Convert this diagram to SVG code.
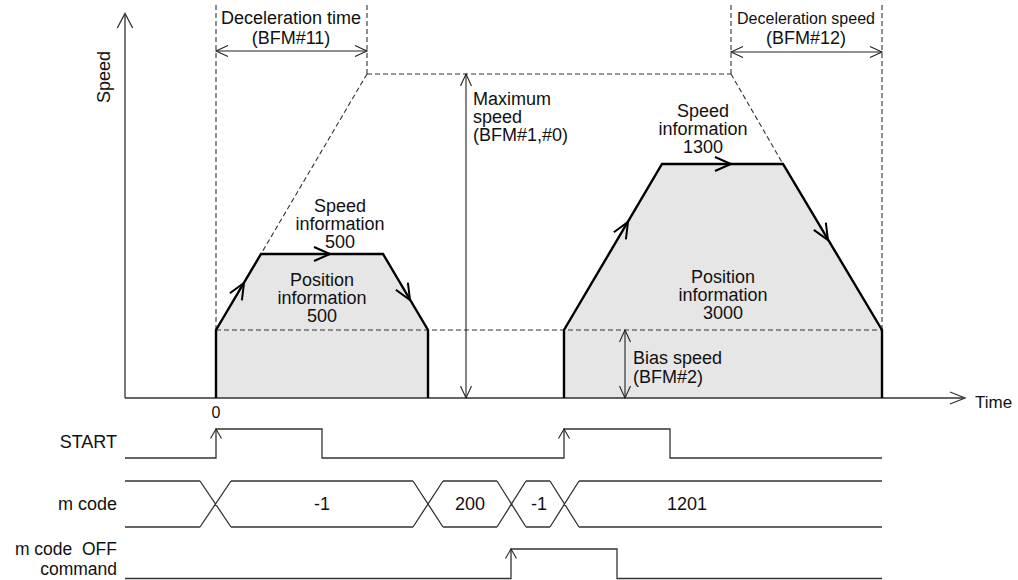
<svg xmlns="http://www.w3.org/2000/svg" width="1018" height="580" viewBox="0 0 1018 580">
<style>
text{font-family:"Liberation Sans",Arial,sans-serif;font-size:18px;fill:#111}
.mid{text-anchor:middle}
.end{text-anchor:end}
.small{font-size:16px}
.lbl2{font-size:17.5px}
.axis{stroke:#333;stroke-width:1.3;fill:none}
.dash{stroke:#333;stroke-width:1.1;stroke-dasharray:5 3;fill:none}
.prof{fill:#e6e6e6;stroke:none}
.outline{stroke:#000;stroke-width:2.4;fill:none;stroke-linejoin:miter}
.sig{stroke:#333;stroke-width:1.3;fill:none}
.chev{stroke:#000;stroke-width:2;fill:none}
.dim{stroke:#222;stroke-width:1.1;fill:none;marker-start:url(#ah);marker-end:url(#ah)}
.tick{stroke:#222;stroke-width:1.1;fill:none}
</style>
<defs>
<marker id="ah" markerUnits="userSpaceOnUse" viewBox="-14 -7 16 14" markerWidth="16" markerHeight="14" refX="0" refY="0" orient="auto-start-reverse" overflow="visible">
<path d="M-12,-5.5 L0,0 L-12,5.5" fill="none" stroke="#222" stroke-width="1.1"/>
</marker>
<path id="chev" d="M-16,-7 L0,0 L-16,7" class="chev"/>
<path id="up" d="M-5.5,9.5 L0,0 L5.5,9.5" class="tick"/>
</defs>

<g id="profiles">
<polygon class="prof" points="216,398 216,330 261,254 383,254 428,330 428,398"/>
<polygon class="prof" points="564,398 564,330 662,164 783,164 882,330 882,398"/>
</g>

<g id="guides">
<path class="dash" d="M216,5 V330 M367,5 V74 M731,5 V74 M882,5 V330"/>
<path class="dash" d="M367,74 H731"/>
<path class="dash" d="M216,330 H882"/>
<path class="dash" d="M367,74 L261,254"/>
<path class="dash" d="M731,74 L783,164"/>
</g>

<g id="axes">
<path class="axis" d="M125,398 V14 M125,398 H964"/>
<path class="axis" d="M117.3,28 L125,13.5 L132.7,28"/>
<path class="axis" d="M950,392 L965,398 L950,404"/>
<text x="0" y="0" transform="translate(110,77) rotate(-90)" class="mid">Speed</text>
<text x="975" y="408" style="font-size:17px">Time</text>
<text x="216" y="418" class="mid" style="font-size:16px">0</text>
</g>

<g id="profile-outlines">
<path class="outline" d="M216,398 L216,330 L261,254 L383,254 L428,330 L428,398"/>
<path class="outline" d="M564,398 L564,330 L662,164 L783,164 L882,330 L882,398"/>
<use href="#chev" transform="translate(244,283) rotate(-59.4)"/>
<use href="#chev" transform="translate(330,254)"/>
<use href="#chev" transform="translate(410,300) rotate(59.4)"/>
<use href="#chev" transform="translate(628,222) rotate(-59.4)"/>
<use href="#chev" transform="translate(731,164)"/>
<use href="#chev" transform="translate(828,240) rotate(59.2)"/>
</g>

<g id="connectors">
<line class="dim" x1="216" y1="51" x2="367" y2="51"/>
<line class="dim" x1="731" y1="52" x2="882" y2="52"/>
<line class="dim" x1="466" y1="74" x2="466" y2="398"/>
<line class="dim" x1="625" y1="330" x2="625" y2="398"/>
</g>

<g id="decel-time">
<text x="291" y="24" class="mid">Deceleration time</text>
<text x="291" y="44" class="mid">(BFM#11)</text>
</g>
<g id="decel-speed">
<text x="806" y="24" class="mid small">Deceleration speed</text>
<text x="806" y="44" class="mid">(BFM#12)</text>
</g>
<g id="max-speed">
<text x="473" y="105">Maximum</text>
<text x="473" y="123">speed</text>
<text x="473" y="141">(BFM#1,#0)</text>
</g>
<g id="bias-speed">
<text x="633" y="364">Bias speed</text>
<text x="633" y="383">(BFM#2)</text>
</g>
<g id="speed-info-500">
<text x="340" y="212" class="mid">Speed</text>
<text x="340" y="230" class="mid">information</text>
<text x="340" y="248" class="mid">500</text>
</g>
<g id="pos-info-500">
<text x="322" y="286" class="mid">Position</text>
<text x="322" y="304" class="mid">information</text>
<text x="322" y="322" class="mid">500</text>
</g>
<g id="speed-info-1300">
<text x="703" y="117" class="mid">Speed</text>
<text x="703" y="135" class="mid">information</text>
<text x="703" y="153" class="mid">1300</text>
</g>
<g id="pos-info-3000">
<text x="723" y="283" class="mid">Position</text>
<text x="723" y="301" class="mid">information</text>
<text x="723" y="319" class="mid">3000</text>
</g>

<g id="start-signal">
<text x="117" y="448" class="end">START</text>
<polyline class="sig" points="125,458 216,458 216,429 322,429 322,458 564,458 564,429 670,429 670,458 882,458"/>
<use href="#up" transform="translate(216,429)"/>
<use href="#up" transform="translate(564,429)"/>
</g>

<g id="mcode-signal">
<text x="117" y="510" class="end">m code</text>
<path class="sig" d="M125,481 H200 M231,481 H413 M443,481 H497 M526,481 H550 M579,481 H882 M125,527 H200 M231,527 H413 M443,527 H497 M526,527 H550 M579,527 H882 M200,481 L231,527 M200,527 L231,481 M413,481 L443,527 M413,527 L443,481 M497,481 L526,527 M497,527 L526,481 M550,481 L579,527 M550,527 L579,481"/>
<text x="322" y="510" class="mid">-1</text>
<text x="470" y="510" class="mid">200</text>
<text x="539" y="510" class="mid">-1</text>
<text x="687" y="510" class="mid">1201</text>
</g>

<g id="mcode-off-signal">
<text x="117" y="555" class="end lbl2" xml:space="preserve">m code  OFF</text>
<text x="117" y="575" class="end lbl2">command</text>
<polyline class="sig" points="125,578.5 511,578.5 511,549 617,549 617,578.5 882,578.5"/>
<use href="#up" transform="translate(511,549)"/>
</g>
</svg>
